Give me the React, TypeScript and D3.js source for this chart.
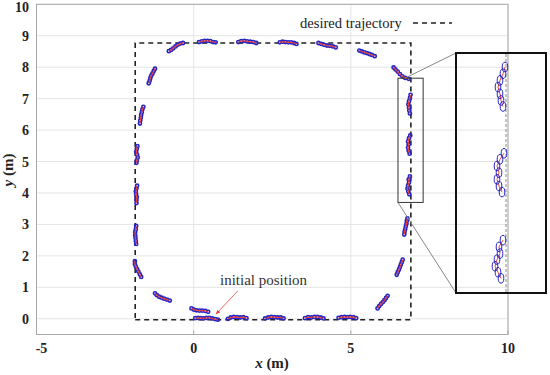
import React from 'react';
import * as d3 from 'd3';

// measured robot path, split into the visible pieces (x, y in metres)
const segments: [number, number][][] = [
  [[-1.23, 7.95], [-1.27, 7.88], [-1.31, 7.80], [-1.35, 7.73], [-1.38, 7.65], [-1.40, 7.57], [-1.43, 7.49]],
  [[-1.60, 6.74], [-1.63, 6.66], [-1.65, 6.57], [-1.67, 6.48], [-1.68, 6.39], [-1.70, 6.30], [-1.71, 6.21]],
  [[-1.79, 5.49], [-1.81, 5.40], [-1.83, 5.31], [-1.80, 5.22], [-1.78, 5.13], [-1.81, 5.04], [-1.82, 4.96]],
  [[-1.80, 4.23], [-1.82, 4.14], [-1.84, 4.05], [-1.83, 3.96], [-1.81, 3.87], [-1.82, 3.78], [-1.82, 3.68]],
  [[-1.83, 2.95], [-1.84, 2.85], [-1.86, 2.76], [-1.86, 2.66], [-1.85, 2.57], [-1.84, 2.47], [-1.83, 2.38]],
  [[-1.87, 1.83], [-1.87, 1.74], [-1.84, 1.66], [-1.80, 1.58], [-1.76, 1.50], [-1.71, 1.41], [-1.67, 1.33]],
  [[-1.23, 0.81], [-1.17, 0.75], [-1.10, 0.70], [-1.02, 0.67], [-0.94, 0.64], [-0.85, 0.61], [-0.76, 0.58]],
  [[-0.07, 0.33], [0.01, 0.29], [0.09, 0.27], [0.18, 0.26], [0.27, 0.26], [0.37, 0.25], [0.46, 0.22]],
  [[0.05, 0.02], [0.14, 0.03], [0.23, 0.02], [0.32, 0.01], [0.41, 0.03], [0.50, 0.03], [0.59, 0.01], [0.68, -0.01], [0.77, -0.03]],
  [[1.09, 0.00], [1.18, 0.04], [1.28, 0.06], [1.38, 0.05], [1.48, 0.04], [1.58, 0.05], [1.68, 0.02]],
  [[2.27, 0.01], [2.37, 0.04], [2.47, 0.06], [2.57, 0.05], [2.67, 0.04], [2.77, 0.04], [2.86, 0.01]],
  [[3.54, 0.02], [3.64, 0.05], [3.74, 0.04], [3.84, 0.06], [3.94, 0.06], [4.04, 0.04], [4.13, 0.01]],
  [[4.61, 0.03], [4.70, 0.05], [4.80, 0.06], [4.89, 0.05], [4.98, 0.06], [5.08, 0.05], [5.17, 0.02]],
  [[5.85, 0.33], [5.90, 0.40], [5.96, 0.47], [6.02, 0.53], [6.07, 0.59], [6.12, 0.66], [6.17, 0.73]],
  [[6.46, 1.40], [6.49, 1.48], [6.53, 1.56], [6.56, 1.64], [6.59, 1.72], [6.62, 1.80], [6.65, 1.88]],
  [[6.70, 2.68], [6.71, 2.77], [6.73, 2.85], [6.75, 2.94], [6.77, 3.02], [6.78, 3.11], [6.80, 3.19]],
  [[6.86, 3.96], [6.83, 4.05], [6.80, 4.14], [6.82, 4.24], [6.85, 4.33], [6.84, 4.43], [6.88, 4.53]],
  [[6.87, 5.25], [6.84, 5.34], [6.82, 5.44], [6.84, 5.54], [6.82, 5.64], [6.85, 5.74], [6.89, 5.83]],
  [[6.88, 6.53], [6.86, 6.62], [6.85, 6.72], [6.83, 6.82], [6.85, 6.92], [6.88, 7.02], [6.90, 7.12]],
  [[6.36, 7.99], [6.42, 7.93], [6.49, 7.86], [6.56, 7.78], [6.64, 7.71], [6.73, 7.66], [6.84, 7.63]],
  [[5.27, 8.53], [5.35, 8.50], [5.43, 8.47], [5.51, 8.45], [5.59, 8.42], [5.67, 8.39], [5.76, 8.35]],
  [[3.97, 8.77], [4.06, 8.74], [4.15, 8.71], [4.24, 8.69], [4.33, 8.68], [4.43, 8.66], [4.52, 8.63]],
  [[2.74, 8.79], [2.83, 8.81], [2.92, 8.80], [3.01, 8.79], [3.10, 8.79], [3.19, 8.77], [3.27, 8.74]],
  [[1.42, 8.80], [1.51, 8.83], [1.61, 8.84], [1.70, 8.82], [1.80, 8.81], [1.90, 8.80], [1.99, 8.77]],
  [[0.17, 8.80], [0.26, 8.82], [0.35, 8.84], [0.44, 8.84], [0.53, 8.83], [0.62, 8.80], [0.70, 8.79]],
  [[-0.79, 8.51], [-0.72, 8.55], [-0.65, 8.60], [-0.58, 8.66], [-0.51, 8.71], [-0.43, 8.75], [-0.34, 8.77]],
];

// desired rectangular path
const desired: [number, number][] = [
  [-1.86, -0.03], [6.91, -0.03], [6.91, 8.77], [-1.86, 8.77], [-1.86, -0.03],
];

const xTicks = [-5, 0, 5, 10];
const yTicks = [0, 1, 2, 3, 4, 5, 6, 7, 8, 9, 10];

// zoomed area (data coords) and the inset's view of it
const zoomBox = { x0: 6.5, x1: 7.3, y0: 3.7, y1: 7.65 };
const insetX = [6.41, 7.31];
const insetY = [3.74, 7.33];

// "initial position" arrow, tail -> head
const arrow: [number, number][] = [[1.4, 0.88], [0.71, 0.15]];

const W = 550;
const H = 375;
const BLUE = '#2626c4';
const RED = '#e8413c';
const serif = "'Liberation Serif', 'Times New Roman', serif";

export default function App() {
  const x = d3.scaleLinear().domain([-5, 10]).range([36.5, 508]);
  const y = d3.scaleLinear().domain([-0.5, 10]).range([334.5, 4.3]);

  const ix = d3.scaleLinear().domain(insetX).range([456, 546]);
  const iy = d3.scaleLinear().domain(insetY).range([293, 53]);

  const line = d3.line<[number, number]>().x(d => x(d[0])).y(d => y(d[1]));
  const iline = d3.line<[number, number]>().x(d => ix(d[0])).y(d => iy(d[1]));

  const left = x.range()[0], right = x.range()[1];
  const bottom = y.range()[0], top = y.range()[1];

  const bx0 = x(zoomBox.x0), bx1 = x(zoomBox.x1);
  const by0 = y(zoomBox.y1), by1 = y(zoomBox.y0);

  return (
    <svg width={W} height={H} style={{ position: 'absolute', left: 0, top: 0, background: '#fff', fontFamily: serif }}>
      <defs>
        <clipPath id="inset-clip">
          <rect x={456} y={53} width={90} height={240} />
        </clipPath>
        <marker id="arrowhead" viewBox="0 0 10 10" refX="9" refY="5" markerWidth="6" markerHeight="6" orient="auto">
          <path d="M0,1 L10,5 L0,9 z" fill={RED} />
        </marker>
      </defs>

      {/* grid */}
      {yTicks.map(t => (
        <line key={'gy' + t} x1={left} x2={right} y1={y(t)} y2={y(t)} stroke="#e4e4e4" strokeWidth={1} />
      ))}
      {xTicks.map(t => (
        <line key={'gx' + t} x1={x(t)} x2={x(t)} y1={top} y2={bottom} stroke="#e4e4e4" strokeWidth={1} />
      ))}

      {/* frame */}
      <rect x={left} y={top} width={right - left} height={bottom - top} fill="none" stroke="#a8a8a8" strokeWidth={1} />
      {xTicks.map(t => (
        <line key={'tx' + t} x1={x(t)} x2={x(t)} y1={bottom} y2={bottom - 4} stroke="#a8a8a8" />
      ))}

      {/* tick labels */}
      {xTicks.map(t => (
        <text key={'lx' + t} x={x(t) + (t < 0 ? 5 : 0)} y={353} textAnchor="middle"
          style={{ fontFamily: serif, fontWeight: 'bold', fontSize: 14 }} fill="#222">{t}</text>
      ))}
      {yTicks.map(t => (
        <text key={'ly' + t} x={29} y={Math.max(y(t) + 5, 12)} textAnchor="end"
          style={{ fontFamily: serif, fontWeight: 'bold', fontSize: 14 }} fill="#222">{t}</text>
      ))}

      {/* axis titles */}
      <text x={272} y={368} textAnchor="middle" style={{ fontFamily: serif, fontWeight: 'bold', fontSize: 15 }} fill="#222">
        <tspan style={{ fontStyle: 'italic' }}>x</tspan> (m)
      </text>
      <text transform="translate(13,170) rotate(-90)" textAnchor="middle" style={{ fontFamily: serif, fontWeight: 'bold', fontSize: 15 }} fill="#222">
        <tspan style={{ fontStyle: 'italic' }}>y</tspan> (m)
      </text>

      {/* desired trajectory */}
      <path d={line(desired) ?? ''} fill="none" stroke="#222" strokeWidth={1.6} strokeDasharray="5,4" />

      {/* measured path */}
      {segments.map((seg, i) => (
        <g key={'s' + i}>
          {seg.map((p, j) => (
            <circle key={j} cx={x(p[0])} cy={y(p[1])} r={1.6} fill="none" stroke={BLUE} strokeWidth={1.6} />
          ))}
          <path d={line(seg) ?? ''} fill="none" stroke={RED} strokeWidth={1.2} />
        </g>
      ))}

      {/* legend */}
      <text x={300} y={28} style={{ fontFamily: serif, fontSize: 14.6 }} fill="#222">desired trajectory</text>
      <line x1={413} x2={452} y1={23} y2={23} stroke="#222" strokeWidth={1.6} strokeDasharray="5,4" />

      {/* initial position annotation */}
      <text x={220} y={285} style={{ fontFamily: serif, fontSize: 15 }} fill="#333">initial position</text>
      <line x1={x(arrow[0][0])} y1={y(arrow[0][1])} x2={x(arrow[1][0])} y2={y(arrow[1][1])}
        stroke={RED} strokeWidth={0.8} markerEnd="url(#arrowhead)" />

      {/* zoom box and connectors */}
      <rect x={bx0} y={by0} width={bx1 - bx0} height={by1 - by0} fill="none" stroke="#333" strokeWidth={1} />
      <line x1={x(6.72)} y1={by0} x2={456} y2={53} stroke="#888" strokeWidth={1} />
      <line x1={bx0} y1={by1} x2={456} y2={293} stroke="#888" strokeWidth={1} />

      {/* inset */}
      <g clipPath="url(#inset-clip)">
        <path d={iline(desired) ?? ''} fill="none" stroke="#888" strokeWidth={1} strokeDasharray="3,2" />
        {segments.map((seg, i) => (
          <g key={'is' + i}>
            <path d={iline(seg) ?? ''} fill="none" stroke={RED} strokeWidth={1} />
            {seg.map((p, j) => (
              <ellipse key={j} cx={ix(p[0])} cy={iy(p[1])} rx={2.8} ry={4.8} fill="none" stroke={BLUE} strokeWidth={1} />
            ))}
          </g>
        ))}
      </g>
      <rect x={456} y={53} width={90} height={240} fill="none" stroke="#111" strokeWidth={2} />
    </svg>
  );
}
